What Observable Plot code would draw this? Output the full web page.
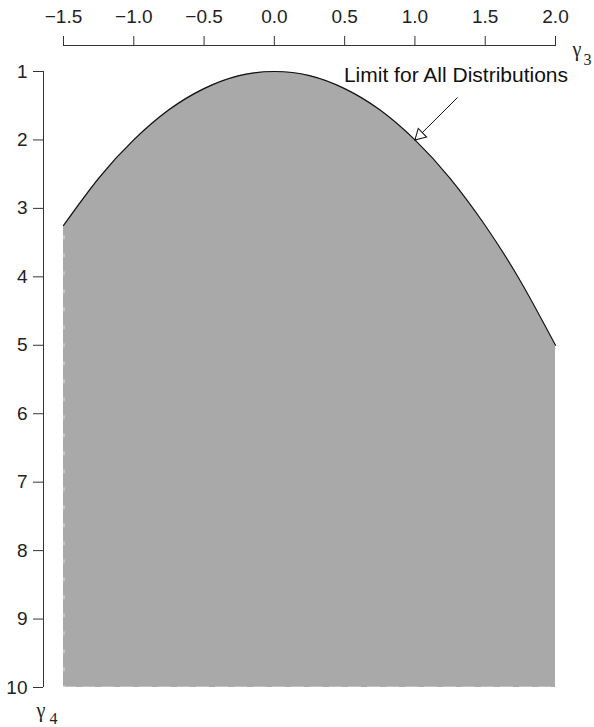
<!DOCTYPE html>
<html>
<head>
<meta charset="utf-8">
<script src="https://cdn.jsdelivr.net/npm/d3@7"></script>
<script src="https://cdn.jsdelivr.net/npm/@observablehq/plot@0.6"></script>
<style>
  html, body { margin: 0; padding: 0; background: #fff; }
  #chart svg { display: block; }
</style>
</head>
<body>
<div id="chart"></div>
<script>
// Skewness (gamma3) values along the limit curve
const gamma3 = [-1.5, -1.25, -1.0, -0.75, -0.5, -0.25, 0.0, 0.25, 0.5, 0.75, 1.0, 1.25, 1.5, 1.75, 2.0];
// Kurtosis (gamma4) limit
const gamma4Limit = [3.25, 2.56, 2.0, 1.56, 1.25, 1.06, 1.0, 1.06, 1.25, 1.56, 2.0, 2.56, 3.25, 4.06, 5.0];
// Bottom of the shaded region
const gamma4Bottom = 10;
// Tick labels
const xTicks = [-1.5, -1.0, -0.5, 0.0, 0.5, 1.0, 1.5, 2.0];
const yTicks = [1, 2, 3, 4, 5, 6, 7, 8, 9, 10];
// Annotation
const annotText = "Limit for All Distributions";
const annotTip = {x: 1.0, y: 2.0};
const annotTail = {x: 1.303, y: 1.38};
const annotLabel = {x: 1.292, y: 1.16};

const data = gamma3.map((g, i) => ({g3: g, g4: gamma4Limit[i]}));

const plot = Plot.plot({
  width: 594,
  height: 727,
  marginTop: 71,
  marginBottom: 40,
  marginLeft: 63,
  marginRight: 39,
  style: {fontFamily: "'Liberation Sans', Arial, Helvetica, sans-serif", background: "#fff", color: "#222"},
  x: {domain: [-1.5, 2.0], label: null},
  y: {domain: [1, 10], reverse: true, label: null},
  marks: [
    Plot.areaY(data, {x: "g3", y1: gamma4Bottom, y2: "g4", fill: "#a9a9a9", curve: "natural"}),
    // faint dashed edges of the shading
    Plot.ruleX([gamma3[0]], {y1: gamma4Limit[0] + 0.15, y2: gamma4Bottom, stroke: "white", strokeOpacity: 0.6, strokeDasharray: "4,14", dx: 0.5}),
    Plot.ruleY([gamma4Bottom], {x1: gamma3[0], x2: gamma3[gamma3.length - 1], stroke: "white", strokeOpacity: 0.6, strokeDasharray: "13,6", dy: -0.5}),
    Plot.lineY(data, {x: "g3", y: "g4", stroke: "#111", strokeWidth: 1.2, curve: "natural"}),
    // axis lines
    Plot.ruleY([yTicks[0]], {dy: -26, stroke: "#333"}),
    Plot.ruleX([xTicks[0]], {dx: -20, stroke: "#333"}),
    Plot.axisX(xTicks, {anchor: "top", tickSize: 10, tickPadding: 13, dy: -26, tickFormat: d3.format(".1f"), fontSize: 19, stroke: "#333", fill: "#222", label: null}),
    Plot.axisY(yTicks, {anchor: "left", tickSize: 10, tickPadding: 6, dx: -20, tickFormat: d3.format("d"), fontSize: 19, stroke: "#333", fill: "#222", label: null}),
    // axis titles
    Plot.text([0], {frameAnchor: "top-right", text: () => "γ", textAnchor: "start", lineAnchor: "bottom", dx: 17, dy: -16, fontSize: 20, fontFamily: "'Liberation Serif', 'DejaVu Serif', serif", fill: "#222"}),
    Plot.text([0], {frameAnchor: "top-right", text: () => "3", textAnchor: "start", lineAnchor: "bottom", dx: 28, dy: -7, fontSize: 16, fontFamily: "'Liberation Serif', 'DejaVu Serif', serif", fill: "#222"}),
    Plot.text([0], {frameAnchor: "bottom-left", text: () => "γ", textAnchor: "start", lineAnchor: "bottom", dx: -27, dy: 29, fontSize: 20, fontFamily: "'Liberation Serif', 'DejaVu Serif', serif", fill: "#222"}),
    Plot.text([0], {frameAnchor: "bottom-left", text: () => "4", textAnchor: "start", lineAnchor: "bottom", dx: -14, dy: 36, fontSize: 16, fontFamily: "'Liberation Serif', 'DejaVu Serif', serif", fill: "#222"}),
    // annotation
    Plot.link([{x1: annotTail.x, y1: annotTail.y, x2: annotTip.x, y2: annotTip.y}], {x1: "x1", y1: "y1", x2: "x2", y2: "y2", stroke: "#111", strokeWidth: 1}),
    Plot.dot([annotTip], {x: "x", y: "y", symbol: "triangle", r: 4.5, rotate: -134, dx: 5, dy: -4.8, fill: "white", stroke: "#111", strokeWidth: 1}),
    Plot.text([annotLabel], {x: "x", y: "y", text: () => annotText, textAnchor: "middle", lineAnchor: "bottom", fontSize: 21, fill: "#111"})
  ]
});

document.getElementById("chart").appendChild(plot);
</script>
</body>
</html>
